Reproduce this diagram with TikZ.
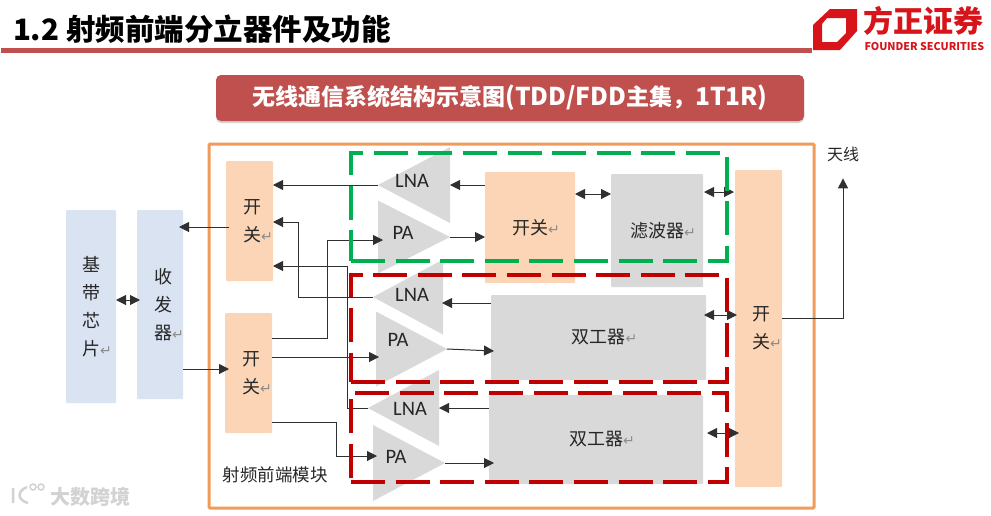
\documentclass[tikz,border=0pt]{standalone}
\usepackage{xcolor}
\usepackage{fontspec}
\usetikzlibrary{arrows.meta, positioning, calc, shadows, shapes.geometric}
\setmainfont{Noto Sans CJK SC}
\newfontfamily\latinfont{Carlito}
\newfontfamily\symfont{DejaVu Sans}
\definecolor{rfred}{HTML}{C0504D}
\definecolor{rforange}{HTML}{F09B59}
\definecolor{rfpeach}{HTML}{FBD5B5}
\definecolor{rfblue}{HTML}{DAE3F1}
\definecolor{rfgray}{HTML}{D9D9D9}
\definecolor{rfgreen}{HTML}{00B050}
\definecolor{rfdark}{HTML}{C00000}
\definecolor{rfline}{HTML}{303030}
\definecolor{rflogo}{HTML}{D7141A}
\definecolor{rfmark}{HTML}{8C8C8C}
\definecolor{rfwater}{HTML}{D2D2D2}
\def\retmark{\rlap{\textcolor{rfmark}{\symfont\fontsize{14}{14}\selectfont ↵}}}
\def\titlelatin#1{{\fontsize{24.5}{24.5}\selectfont #1}}

\begin{document}
\begin{tikzpicture}[
    x=1pt, y=-1pt,
    every node/.style={inner sep=0pt, outer sep=0pt, text=black!85},
    cjktext/.style={font=\fontsize{18}{27.8}\selectfont, align=center},
    peachbox/.style={fill=rfpeach, rounded corners=1pt, cjktext},
    bluebox/.style={fill=rfblue, rounded corners=1pt, cjktext},
    graybox/.style={fill=rfgray, rounded corners=1pt, cjktext},
    pamp/.style={isosceles triangle, isosceles triangle stretches, fill=rfgray,
                 anchor=apex},
    lamp/.style={pamp, shape border rotate=180},
    amplabel/.style={font=\fontsize{20.5}{20.5}\latinfont},
    arr/.style={-{Triangle[length=10pt,width=10pt]}, draw=rfline, line width=1pt},
    dblarr/.style={{Triangle[length=10pt,width=10pt]}-{Triangle[length=10pt,width=10pt]},
                   draw=rfline, line width=1pt},
    dashbox/.style={line width=4pt, dash pattern=on 34pt off 10.6pt, line join=miter},
]
\useasboundingbox (0,0) rectangle (991,515);

\fill[rfred] (1,48) rectangle (812,53);
\node[anchor=west, text=black, font=\fontsize{29.5}{29.5}\selectfont\bfseries] (pageTitle)
    at (13,29) {1.2 射频前端分立器件及功能};

\fill[rflogo, even odd rule] (830,9) -- (857,9) -- (857,31) -- (840,50) -- (813,50) -- (813,25) -- cycle
    (822,24) -- (827,18) -- (846,18) -- (846,33) -- (837,42) -- (822,42) -- cycle;
\node[anchor=west, text=rflogo, font=\fontsize{30}{30}\selectfont\bfseries] (logoCn)
    at (863,21) {方正证券};
\node[anchor=west, text=rflogo, font=\fontsize{10.7}{10.7}\selectfont\bfseries] (logoEn)
    at (864.5,47) {FOUNDER SECURITIES};

\node[fill=rfred, rounded corners=5pt, minimum width=588, minimum height=46,
      drop shadow={shadow xshift=0pt, shadow yshift=-2pt, opacity=0.35},
      text=white, font=\fontsize{23}{23}\selectfont\bfseries] (sysTitle)
    at (510,98) {无线通信系统结构示意图\titlelatin{(TDD/FDD}主集，\titlelatin{1T1R)}};

\draw[rforange, line width=3pt, rounded corners=1pt] (209,144) rectangle (814,508);

\node[bluebox, minimum width=50, minimum height=193] (baseband) at (91,306.5)
    {基\\带\\芯\\片\retmark};
\node[bluebox, minimum width=46, minimum height=189] (trx) at (160,304.5) {};
\node[cjktext] (trxText) at ($(trx)+(3,0)$) {收\\发\\器\retmark};

\node[peachbox, minimum width=47, minimum height=120] (swTop) at (249.5,221) {};
\node[cjktext] (swTopText) at ($(swTop)+(2.5,0)$) {开\\关\retmark};
\node[peachbox, minimum width=47, minimum height=120] (swBot) at (248.5,373) {};
\node[cjktext] (swBotText) at ($(swBot)+(2.5,0)$) {开\\关\retmark};
\node[peachbox, minimum width=90, minimum height=111] (swMid) at (530,227.5) {开关\retmark};
\node[graybox, minimum width=92, minimum height=113] (filter) at (657,230.5) {滤波器\retmark};
\node[graybox, minimum width=215, minimum height=85] (dupA) at (598.5,337.5) {双工器\retmark};
\node[graybox, minimum width=214, minimum height=89] (dupB) at (596,439.5) {双工器\retmark};
\node[peachbox, minimum width=47, minimum height=317] (swAnt) at (758.5,328.5) {};
\node[cjktext] (swAntText) at ($(swAnt)+(2.5,0)$) {开\\关\retmark};

\node[lamp, minimum width=76, minimum height=72] (lnaA) at (378,185) {};
\node[pamp, minimum width=73, minimum height=72] (paA) at (450,237) {};
\node[lamp, minimum width=75, minimum height=70] (lnaB) at (373,297) {};
\node[pamp, minimum width=75, minimum height=71] (paB) at (447,349) {};
\node[lamp, minimum width=76, minimum height=71] (lnaC) at (368,408) {};
\node[pamp, minimum width=76, minimum height=72] (paC) at (445,463) {};

\node[amplabel] (lnaAText) at (412,181) {LNA};
\node[amplabel] (paAText)  at (403,233) {PA};
\node[amplabel] (lnaBText) at (412,295) {LNA};
\node[amplabel] (paBText)  at (398,340) {PA};
\node[amplabel] (lnaCText) at (410,409) {LNA};
\node[amplabel] (paCText)  at (396,457) {PA};

\node[font=\fontsize{16}{16}\selectfont] (antenna) at (843,154) {天线};
\node[font=\fontsize{17.5}{18}\selectfont] (moduleText) at (275,475) {射频前端模块};

\draw[dblarr] (baseband.east |- 0,300) -- ($(trx.west |- 0,300)+(3,0)$);
\draw[arr] ($(swTop.west |- 0,227)+(3,0)$) -- ($(trx.east |- 0,227)-(4,0)$);
\draw[arr] (trx.east |- 0,369) -- ($(swBot.west |- 0,369)+(4,0)$);

\draw[arr] (lnaA.apex) -- (swTop.east |- lnaA.apex);
\draw[arr] (swMid.west |- lnaA.apex) -- (lnaA.lower side);
\draw[arr] ($(swBot.north east)+(0,25)$) -- ++(55,0) |- ($(paA.lower side)+(5,3)$);
\draw[arr] (paA.apex) -- (swMid.west |- paA.apex);
\draw[arr] (lnaB.apex) -- ++(-75,0) |- (swTop.east |- 0,222);
\draw[arr] (lnaC.apex) -- ++(-21,0) |- (swTop.east |- 0,266);
\draw[arr] (dupA.west |- 0,303) -- ($(lnaB.lower side |- 0,303)-(1,0)$);
\draw[arr] ($(swBot.north east)+(0,44)$) -- ($(paB.lower side |- 0,357)+(3,0)$);
\draw[arr] (paB.apex) -- ($(dupA.west |- paB.apex)+(3,2)$);
\draw[arr] ($(swBot.north east)+(0,109)$) -- ++(64,0) |- ($(paC.lower side |- 0,456)+(4,0)$);
\draw[arr] (paC.apex) -- ($(dupB.west |- paC.apex)+(5,0)$);
\draw[arr] (dupB.west |- lnaC.apex) -- (lnaC.lower side);

\draw[dblarr] (swMid.east |- 0,194) -- (filter.west |- 0,194);
\draw[dblarr] ($(filter.east |- 0,192)+(1,0)$) -- ($(swAnt.west |- 0,192)-(1,0)$);
\draw[dblarr] ($(dupA.east |- 0,315)-(2,0)$) -- ($(swAnt.west |- 0,315)+(2,0)$);
\draw[dblarr] ($(dupB.east |- 0,433)+(4,0)$) -- ($(swAnt.west |- 0,433)+(4,0)$);

\draw[arr] (swAnt.east |- 0,318) -| ($(antenna.south)+(0,17)$);

\draw[dashbox, rfgreen] (351,260.5) -- (727,260.5) -- (727,153) -- (351,153) -- cycle;
\draw[dashbox, rfdark] (351,382) -- (727,382) -- (727,275) -- (351,275) -- cycle;
\draw[dashbox, rfdark] (351,482) -- (727,482) -- (727,393) -- (351,393) -- cycle;

\draw[rfwater, line width=2.5pt] (13,488) -- (13,503)
    (27,487) .. controls (17,491) and (17,500) .. (28,503);
\draw[rfwater, line width=1.5pt] (33,487) circle (3) (41,487) circle (3);
\node[anchor=west, text=rfwater, font=\fontsize{20}{20}\selectfont\bfseries] (watermark)
    at (50,497) {大数跨境};
\end{tikzpicture}
\end{document}
